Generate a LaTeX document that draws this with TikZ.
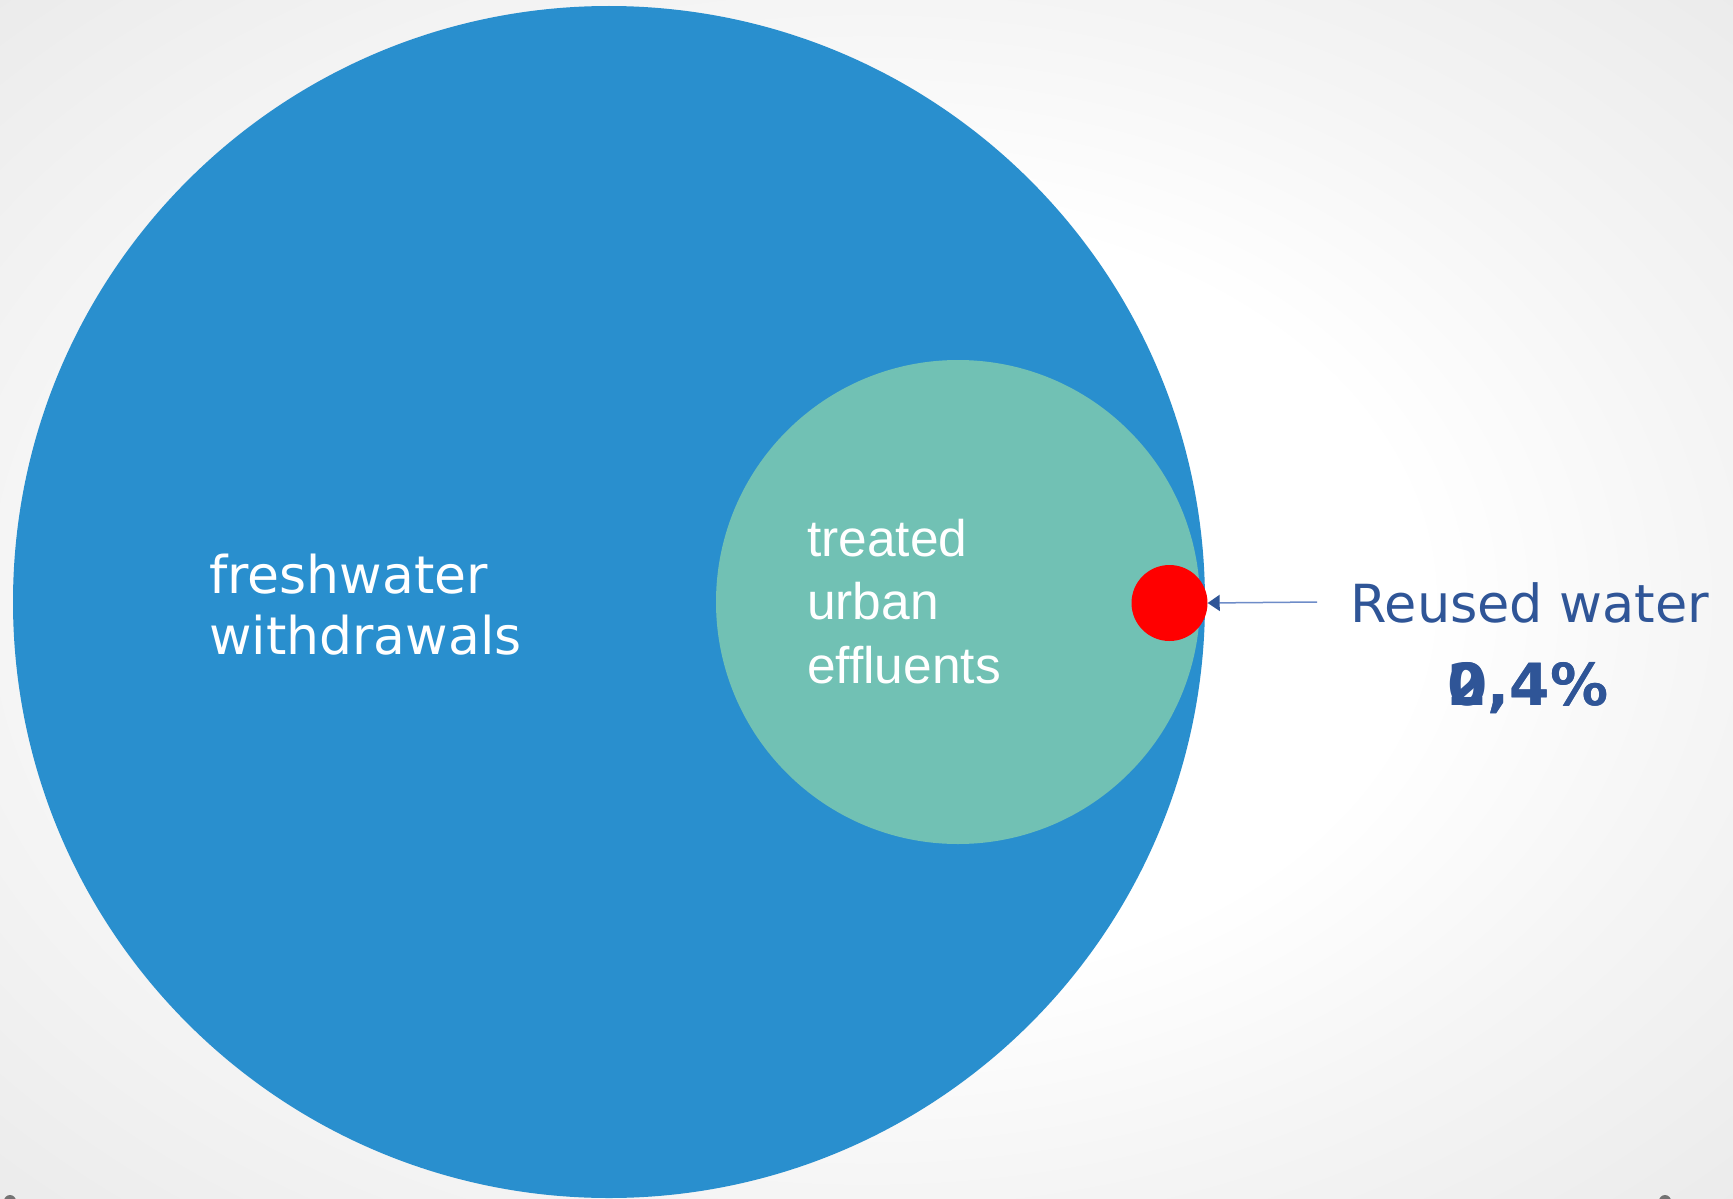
\documentclass[tikz,border=0pt]{standalone}
\usepackage{fontspec}
\setmainfont{DejaVu Sans}
\newfontfamily\arialfont{Liberation Sans}
\usetikzlibrary{arrows.meta}

\definecolor{freshblue}{RGB}{41,143,206}
\definecolor{effgreen}{RGB}{113,193,180}
\definecolor{reusered}{RGB}{255,0,0}
\definecolor{labelblue}{RGB}{47,85,151}
\definecolor{leaderblue}{RGB}{110,140,200}

\pgfdeclareradialshading{slidebg}{\pgfpoint{0bp}{0bp}}{%
  color(0bp)=(white); color(16bp)=(white);
  color(25bp)=(black!4); color(50bp)=(black!13)}

\tikzset{
  disc/.style={circle, inner sep=0pt, draw=none},
  inlabel/.style={text=white, align=left, inner sep=0pt},
  leader/.style={draw=leaderblue, line width=1.5pt,
    -{Triangle[length=12pt,width=16pt,color=labelblue]}},
  dot/.style={circle, fill=black!55, inner sep=0pt, minimum size=12pt}
}

\begin{document}
\begin{tikzpicture}[x=1pt, y=-1pt]
  % slide background
  \shade[shading=slidebg] (0,0) rectangle (1733,1199);
  \useasboundingbox (0,0) rectangle (1733,1199);

  % nested circles
  \node[disc, fill=freshblue, minimum size=1192pt] (fresh) at (609,602) {};
  \node[disc, fill=effgreen, minimum size=484pt] (effl) at (958,602) {};
  \node[disc, fill=reusered, minimum size=76pt] (reuse) at (1169.5,603) {};

  % labels inside the circles (base anchor = last line)
  \node[inlabel, anchor=base west,
        font=\fontsize{52}{61}\selectfont] (freshlbl) at (209,654)
        {freshwater\\withdrawals};
  \node[inlabel, anchor=base west,
        font=\arialfont\fontsize{51.5}{63.5}\selectfont] (effllbl) at (807,683)
        {treated\\urban\\effluents};

  % callout
  \coordinate (leadstart) at (1317,602);
  \draw[leader] (leadstart) -- (reuse.east);
  \node[text=labelblue, anchor=base, inner sep=0pt,
        font=\fontsize{52.5}{60}\selectfont] (reusedlbl) at (1530,622)
        {Reused water};
  \node[text=labelblue, anchor=base, inner sep=0pt,
        font=\bfseries\fontsize{58}{60}\selectfont] (pctA) at (1528,705) {0,4\%};
  \node[text=labelblue, anchor=base, inner sep=0pt,
        font=\bfseries\fontsize{58}{60}\selectfont] (pctB) at (1528,705) {2,4\%};

  % slide markers at the lower edge
  \node[dot] (mkleft) at (10,1201) {};
  \node[dot] (mkright) at (1665,1201) {};
\end{tikzpicture}
\end{document}
